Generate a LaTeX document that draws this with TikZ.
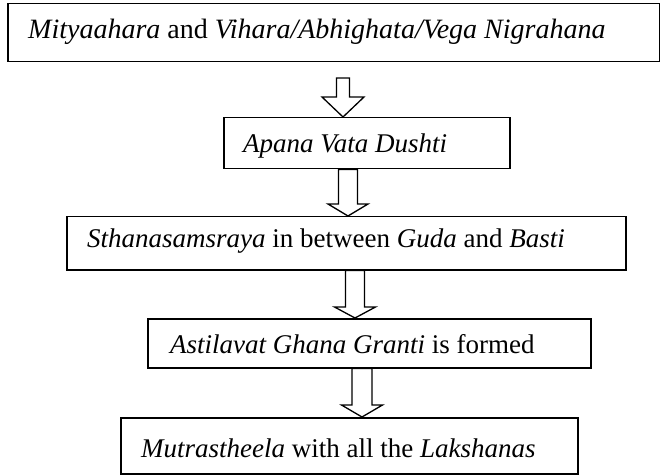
\documentclass[tikz,border=0pt]{standalone}
\usepackage{fontspec}
\setmainfont{Liberation Serif}
\usetikzlibrary{calc}
\tikzset{
  box/.style={draw=black, line width=1.5bp, fill=white, inner sep=0pt, anchor=north west},
  lbl/.style={anchor=base west, inner sep=0pt, font=\fontsize{27bp}{32bp}\selectfont},
  blk/.style={draw=black, fill=white, line width=1.3bp, line join=miter}
}
\newcommand\blockarrow[5]{%
  \draw[blk] let \p1=#1, \p2=#2 in
    (\x1-#3,\y1) -- (\x1-#3,\y2+#5) -- (\x1-#4,\y2+#5) -- (\x1,\y2)
    -- (\x1+#4,\y2+#5) -- (\x1+#3,\y2+#5) -- (\x1+#3,\y1) -- cycle;}
\begin{document}
\begin{tikzpicture}[x=1bp,y=-1bp]
\path[fill=white, use as bounding box] (0,0) rectangle (660,476);
% boxes
\node[box, minimum width=652bp, minimum height=58bp] (b1) at (7,3) {};
\node[box, minimum width=286bp, minimum height=51bp] (b2) at (223,117) {};
\node[box, minimum width=559bp, minimum height=53bp] (b3) at (66,216) {};
\node[box, minimum width=443bp, minimum height=49bp] (b4) at (147,318) {};
\node[box, minimum width=457bp, minimum height=56bp] (b5) at (120,417) {};
% texts
\node[lbl, font=\fontsize{28bp}{33bp}\selectfont] (t1) at (28,39) {\textit{Mityaahara} and \textit{Vihara/Abhighata/Vega Nigrahana}};
\node[lbl] (t2) at (243,153) {\textit{Apana Vata Dushti}};
\node[lbl] (t3) at (87,248) {\textit{Sthanasamsraya} in between \textit{Guda} and \textit{Basti}};
\node[lbl] (t4) at (170,353) {\textit{Astilavat Ghana Granti} is formed};
\node[lbl] (t5) at (141,457) {\textit{Mutrastheela} with all the \textit{Lakshanas}};
% arrow anchors
\coordinate (a1) at (343,78);
\coordinate (x2) at (348,0);
\coordinate (x3) at (355,0);
\coordinate (x4) at (362,0);
\blockarrow{(a1)}{(b2.north)}{6.5bp}{21bp}{20bp}
\blockarrow{(b2.south -| x2)}{(b3.north)}{9.5bp}{20bp}{12bp}
\blockarrow{(b3.south -| x3)}{(b4.north)}{9.5bp}{20.5bp}{11bp}
\blockarrow{(b4.south -| x4)}{(b5.north)}{10bp}{20.5bp}{12bp}
\end{tikzpicture}
\end{document}
